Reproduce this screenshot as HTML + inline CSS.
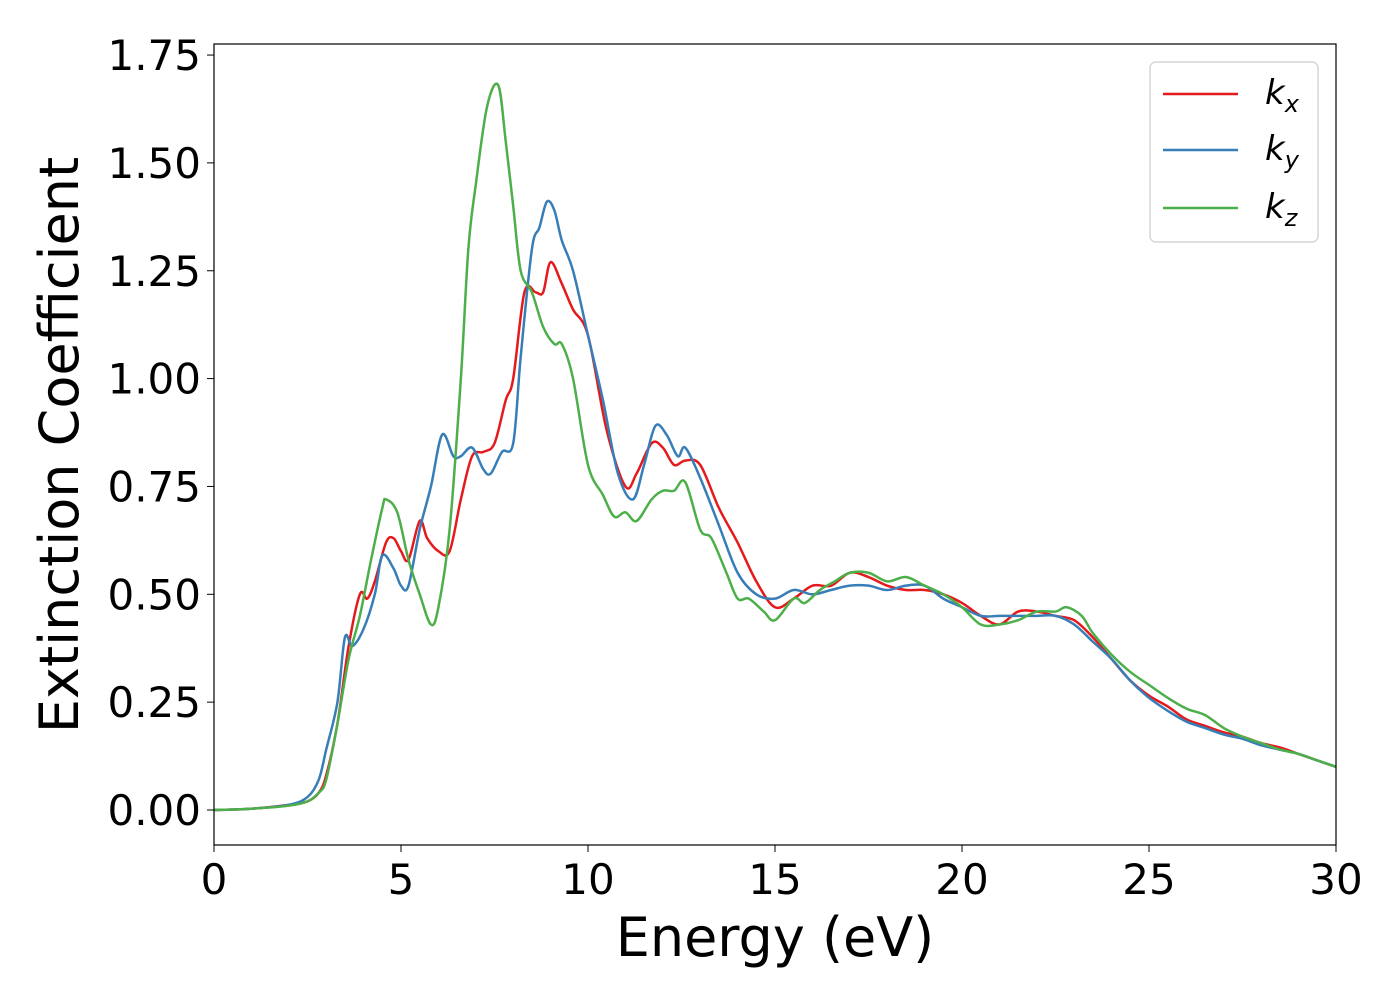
<!DOCTYPE html>
<html><head><meta charset="utf-8"><style>
body{margin:0;background:#fff;}
svg{display:block;font-family:"DejaVu Sans","Liberation Sans",sans-serif;}
</style></head><body>
<svg id="chart" width="1400" height="1000">
<rect width="1400" height="1000" fill="#fff"/>
<g id="plot"></g>
<rect x="214" y="44" width="1122" height="801" fill="none" stroke="#000" stroke-width="1.2"/>
<text x="775" y="956" font-size="54" text-anchor="middle">Energy (eV)</text>
<text transform="translate(78,445) rotate(-90)" font-size="54" text-anchor="middle">Extinction Coefficient</text>
<g>
<rect x="1150" y="62" width="168" height="180" rx="6" fill="#fff" stroke="#ccc" stroke-width="1.2"/>
<line x1="1163" y1="94" x2="1238" y2="94" stroke="#e41a1c" stroke-width="2.5"/>
<text x="1265" y="104" font-size="34" font-style="italic">k<tspan font-size="24" dy="8">x</tspan></text>
<line x1="1163" y1="150" x2="1238" y2="150" stroke="#377eb8" stroke-width="2.5"/>
<text x="1265" y="160" font-size="34" font-style="italic">k<tspan font-size="24" dy="8">y</tspan></text>
<line x1="1163" y1="208" x2="1238" y2="208" stroke="#4daf4a" stroke-width="2.5"/>
<text x="1265" y="218" font-size="34" font-style="italic">k<tspan font-size="24" dy="8">z</tspan></text>
</g>
</svg>
<script>
const xTicks=[0,5,10,15,20,25,30];
const yTicks=[0,0.25,0.5,0.75,1.0,1.25,1.5,1.75];
const kxE=[0,1,2,2.5,2.8,3,3.3,3.6,3.9,4.1,4.3,4.6,4.8,5,5.2,5.5,5.7,6,6.3,6.6,6.9,7.2,7.5,7.8,8,8.3,8.6,8.8,9,9.3,9.6,10,10.5,11,11.3,11.7,12,12.3,12.6,13,13.5,14,14.5,15,15.5,16,16.5,17,17.5,18,18.5,19,19.5,20,20.5,21,21.5,22,22.5,23,23.5,24,24.5,25,25.5,26,26.5,27,27.5,28,28.5,29,29.5,30];
const kxV=[0,0.003,0.012,0.02,0.04,0.08,0.2,0.38,0.5,0.49,0.53,0.62,0.63,0.6,0.58,0.67,0.63,0.6,0.6,0.72,0.82,0.83,0.85,0.95,1.0,1.2,1.2,1.2,1.27,1.22,1.16,1.1,0.88,0.75,0.78,0.85,0.84,0.8,0.81,0.8,0.7,0.62,0.53,0.47,0.49,0.52,0.52,0.55,0.54,0.52,0.51,0.51,0.5,0.48,0.45,0.43,0.46,0.46,0.45,0.44,0.4,0.35,0.3,0.265,0.24,0.21,0.195,0.18,0.17,0.155,0.145,0.13,0.115,0.1];
const kyE=[0,1,2,2.5,2.8,3,3.3,3.5,3.7,4,4.3,4.5,4.8,5,5.2,5.5,5.8,6.1,6.4,6.6,6.9,7.2,7.4,7.7,8,8.2,8.5,8.7,8.9,9.1,9.3,9.6,10,10.4,10.8,11.2,11.5,11.8,12.1,12.4,12.6,13,13.5,14,14.5,15,15.5,16,16.5,17,17.5,18,18.5,19,19.5,20,20.5,21,21.5,22,22.5,23,23.5,24,24.5,25,25.5,26,26.5,27,27.5,28,28.5,29,29.5,30];
const kyV=[0,0.003,0.012,0.03,0.07,0.14,0.25,0.4,0.38,0.42,0.5,0.59,0.56,0.52,0.52,0.65,0.75,0.87,0.82,0.82,0.84,0.79,0.78,0.83,0.85,1.05,1.3,1.35,1.41,1.39,1.32,1.25,1.1,0.95,0.78,0.72,0.8,0.89,0.87,0.82,0.84,0.77,0.66,0.55,0.5,0.49,0.51,0.5,0.51,0.52,0.52,0.51,0.52,0.52,0.49,0.47,0.45,0.45,0.45,0.45,0.45,0.43,0.39,0.35,0.3,0.26,0.23,0.205,0.19,0.175,0.165,0.15,0.14,0.13,0.115,0.1];
const kzE=[0,1,2,2.5,2.8,3,3.3,3.6,3.9,4.2,4.5,4.6,4.9,5.2,5.5,5.8,6,6.3,6.6,6.8,7,7.3,7.6,7.8,8,8.2,8.5,8.8,9.1,9.3,9.6,10,10.4,10.7,11,11.3,11.7,12,12.3,12.6,13,13.3,13.7,14,14.3,14.7,15,15.5,15.8,16.2,16.6,17,17.5,18,18.5,19,19.5,20,20.5,21,21.5,22,22.5,22.8,23.2,23.5,24,24.5,25,25.5,26,26.5,27,27.5,28,28.5,29,29.5,30];
const kzV=[0,0.003,0.01,0.02,0.04,0.07,0.2,0.35,0.45,0.58,0.7,0.72,0.69,0.58,0.5,0.43,0.47,0.65,1.0,1.3,1.45,1.63,1.68,1.55,1.4,1.25,1.2,1.12,1.08,1.08,1.0,0.8,0.73,0.68,0.69,0.67,0.72,0.74,0.74,0.76,0.65,0.63,0.55,0.49,0.49,0.46,0.44,0.49,0.48,0.51,0.53,0.55,0.55,0.53,0.54,0.52,0.5,0.47,0.43,0.43,0.44,0.46,0.46,0.47,0.45,0.41,0.36,0.32,0.29,0.26,0.235,0.22,0.19,0.17,0.155,0.14,0.13,0.115,0.1];
const NS="http://www.w3.org/2000/svg";
const X=v=>214+v*(1122/30);
const Y=v=>810-v*431.4;
const plot=document.getElementById('plot');
xTicks.forEach(t=>{
 const l=document.createElementNS(NS,'line');
 l.setAttribute('x1',X(t));l.setAttribute('x2',X(t));l.setAttribute('y1',845);l.setAttribute('y2',852);l.setAttribute('stroke','#000');
 
 
 plot.appendChild(l);
 const tx=document.createElementNS(NS,'text');
 tx.setAttribute('x',X(t));tx.setAttribute('y',894);tx.setAttribute('font-size','42');tx.setAttribute('text-anchor','middle');
 tx.textContent=t;
 
 
 plot.appendChild(tx);
});
yTicks.forEach(t=>{
 const l=document.createElementNS(NS,'line');
 l.setAttribute('x1',207);l.setAttribute('x2',214);l.setAttribute('y1',Y(t));l.setAttribute('y2',Y(t));l.setAttribute('stroke','#000');
 
 
 plot.appendChild(l);
 const tx=document.createElementNS(NS,'text');
 tx.setAttribute('x',201);tx.setAttribute('y',Y(t)+15);tx.setAttribute('font-size','42');tx.setAttribute('text-anchor','end');
 tx.textContent=t.toFixed(2);
 
 
 plot.appendChild(tx);
});
function pathFor(E,V){
 const p=E.map((e,i)=>[X(e),Y(V[i])]);
 let d='M'+p[0][0]+','+p[0][1];
 for(let i=0;i<p.length-1;i++){
  const p0=p[Math.max(0,i-1)],p1=p[i],p2=p[i+1],p3=p[Math.min(p.length-1,i+2)];
  const c1=[p1[0]+(p2[0]-p0[0])/6,p1[1]+(p2[1]-p0[1])/6];
  const c2=[p2[0]-(p3[0]-p1[0])/6,p2[1]-(p3[1]-p1[1])/6];
  d+=' C'+c1+' '+c2+' '+p2;
 }
 return d;
}
[[kxE,kxV,'#e41a1c','series-kx'],[kyE,kyV,'#377eb8','series-ky'],[kzE,kzV,'#4daf4a','series-kz']].forEach(s=>{
 const path=document.createElementNS(NS,'path');
 path.setAttribute('d',pathFor(s[0],s[1]));
 path.setAttribute('fill','none');path.setAttribute('stroke',s[2]);path.setAttribute('stroke-width','2.5');
 
 
 plot.appendChild(path);
});
</script>
</body></html>
